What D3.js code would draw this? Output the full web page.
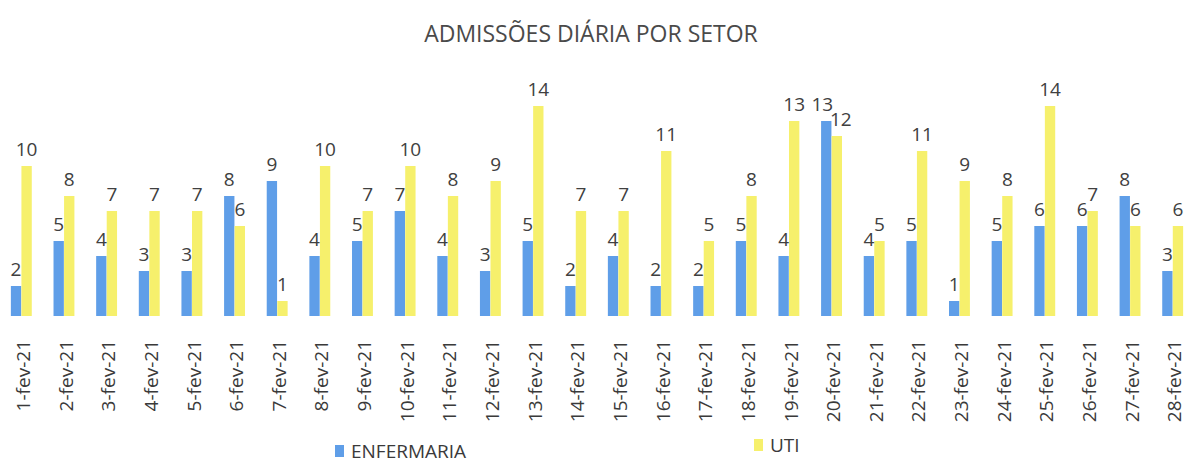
<!DOCTYPE html>
<html>
<head>
<meta charset="utf-8">
<script src="https://cdn.jsdelivr.net/npm/d3@7"></script>
<style>
  body { margin: 0; background: #fff; }
  svg text { font-family: "Open Sans", "Liberation Sans", sans-serif; }
</style>
</head>
<body>
<svg id="chart" width="1188" height="466"></svg>
<script>
var days = ["1-fev-21","2-fev-21","3-fev-21","4-fev-21","5-fev-21","6-fev-21","7-fev-21",
    "8-fev-21","9-fev-21","10-fev-21","11-fev-21","12-fev-21","13-fev-21","14-fev-21",
    "15-fev-21","16-fev-21","17-fev-21","18-fev-21","19-fev-21","20-fev-21","21-fev-21",
    "22-fev-21","23-fev-21","24-fev-21","25-fev-21","26-fev-21","27-fev-21","28-fev-21"];
var enfermaria = [2,5,4,3,3,8,9,4,5,7,4,3,5,2,4,2,2,5,4,13,4,5,1,5,6,6,8,3];
var uti = [10,8,7,7,7,6,1,10,7,10,8,9,14,7,7,11,5,8,13,12,5,11,9,8,14,7,6,6];
var seriesNames = ["ENFERMARIA", "UTI"];
var colors = ["#5f9ee8", "#f6f06c"];

var svg = d3.select("#chart");
var baseY = 316;

var x = d3.scaleBand()
    .domain(days)
    .range([0, 1194])
    .paddingInner(0.5)
    .paddingOuter(0.25);

var xs = d3.scaleBand()
    .domain(seriesNames)
    .range([0, x.bandwidth()])
    .padding(0.02);

var y = d3.scaleLinear()
    .domain([0, 14])
    .range([baseY, baseY - 210]);

svg.append("text")
    .attr("x", 591)
    .attr("y", 42)
    .attr("text-anchor", "middle")
    .attr("font-size", 23)
    .attr("fill", "#4a4a4a")
    .text("ADMISSÕES DIÁRIA POR SETOR");

var rows = days.map(function (d, i) {
    return {day: d, values: [enfermaria[i], uti[i]]};
});

var groups = svg.selectAll("g.day")
    .data(rows)
    .enter().append("g")
    .attr("class", "day")
    .attr("transform", function (d) {
        return "translate(" + x(d.day) + ",0)";
    });

groups.selectAll("rect")
    .data(function (d) {
        return d.values.map(function (v, j) { return {name: seriesNames[j], v: v, j: j}; });
    })
    .enter().append("rect")
    .attr("x", function (d) { return xs(d.name); })
    .attr("width", xs.bandwidth())
    .attr("y", function (d) { return y(d.v); })
    .attr("height", function (d) { return baseY - y(d.v); })
    .attr("fill", function (d) { return colors[d.j]; });

groups.selectAll("text.val")
    .data(function (d) {
        return d.values.map(function (v, j) { return {name: seriesNames[j], v: v, other: d.values[1 - j]}; });
    })
    .enter().append("text")
    .attr("class", "val")
    .attr("x", function (d) {
        var cx = xs(d.name) + xs.bandwidth() / 2;
        // two-digit labels side by side get pushed apart a little
        if (d.v >= 10 && d.other >= 10) cx += d.name === "UTI" ? 4 : -4;
        return cx;
    })
    .attr("y", function (d) { return y(d.v) - 10; })
    .attr("text-anchor", "middle")
    .attr("font-size", 19)
    .attr("fill", "#404040")
    .text(function (d) { return d.v; });

var xAxis = svg.append("g")
    .attr("transform", "translate(0," + baseY + ")")
    .call(d3.axisBottom(x).tickSize(0).tickPadding(0));
xAxis.select(".domain").remove();
xAxis.selectAll("text")
    .attr("font-family", "'Open Sans', sans-serif")
    .attr("font-size", 19)
    .attr("fill", "#3a3a3a")
    .attr("transform", "rotate(-90)")
    .attr("x", -24)
    .attr("y", 2)
    .attr("dy", "0.35em")
    .attr("text-anchor", "end");

var legendPos = [[335, 457], [754, 451]];
var legend = svg.selectAll("g.legend")
    .data(seriesNames)
    .enter().append("g")
    .attr("class", "legend")
    .attr("transform", function (d, i) {
        return "translate(" + legendPos[i][0] + "," + legendPos[i][1] + ")";
    });
legend.append("rect")
    .attr("x", 0)
    .attr("y", -12)
    .attr("width", 9)
    .attr("height", 12)
    .attr("fill", function (d, i) { return colors[i]; });
legend.append("text")
    .attr("x", 16)
    .attr("y", 1)
    .attr("font-size", 19)
    .attr("fill", "#3a3a3a")
    .text(function (d) { return d; });
</script>
</body>
</html>
